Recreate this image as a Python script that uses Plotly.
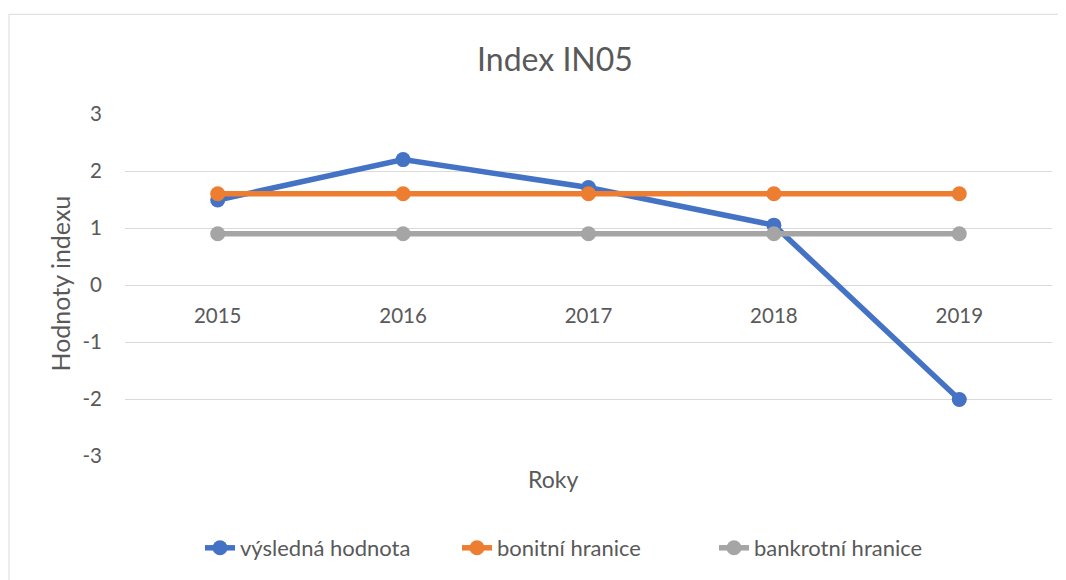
import plotly.graph_objects as go

years = ["2015", "2016", "2017", "2018", "2019"]
vysledna = [1.49, 2.20, 1.71, 1.05, -2.01]
bonitni = [1.6, 1.6, 1.6, 1.6, 1.6]
bankrotni = [0.9, 0.9, 0.9, 0.9, 0.9]
y_ticks = [-3, -2, -1, 0, 1, 2, 3]
y_ticktext = ["-3", "-2", "-1", "0", "1", "2", "3"]

FONT = "Lato"
TXT = "#595959"

# page body has an 8px margin; work in screen pixels and convert
OX, OY = 8, 8
W, H = 1066 - OX, 580 - OY
PL, PR, PT, PB = 125, 1052, 114, 457  # plot area in screen pixels
L, T = PL - OX, PT - OY
R, B = W - (PR - OX), H - (PB - OY)
pw, ph = PR - PL, PB - PT


def px(x):
    return (x - PL) / pw


def py(y):
    return (PB - y) / ph


fig = go.Figure()
series = [
    ("výsledná hodnota", vysledna, "#4472C4"),
    ("bonitní hranice", bonitni, "#ED7D31"),
    ("bankrotní hranice", bankrotni, "#A5A5A5"),
]
for name, vals, col in series:
    fig.add_trace(go.Scatter(
        x=years, y=vals, name=name, mode="lines+markers",
        line=dict(color=col, width=5.5),
        marker=dict(color=col, size=15),
    ))

fig.update_layout(
    width=W, height=H,
    margin=dict(l=L, r=R, t=T, b=B, pad=0),
    paper_bgcolor="white", plot_bgcolor="white",
    font=dict(family=FONT, color=TXT, size=20),
    title=dict(text="Index IN05", xref="container", x=(555 - OX) / W, xanchor="center",
               yref="container", y=1 - (60 - OY) / H, yanchor="middle",
               font=dict(family=FONT, size=32, color=TXT)),
    showlegend=True,
    legend=dict(orientation="h", x=px(200), xanchor="left",
                y=py(548), yanchor="middle",
                font=dict(family=FONT, size=22, color=TXT),
                entrywidth=212, entrywidthmode="pixels",
                traceorder="normal"),
    xaxis=dict(type="category", range=[-0.5, 4.5], showgrid=False,
               showline=False, zeroline=False,
               anchor="free", position=0.5,
               ticks="outside", ticklen=12, tickcolor="rgba(0,0,0,0)",
               tickfont=dict(family=FONT, size=20.5, color=TXT)),
    yaxis=dict(range=[-3, 3], tickvals=y_ticks, ticktext=y_ticktext, showgrid=True,
               gridcolor="#D9D9D9", gridwidth=1.3,
               zeroline=False, showline=False,
               ticks="outside", ticklen=18, tickcolor="rgba(0,0,0,0)",
               tickfont=dict(family=FONT, size=20.5, color=TXT)),
    annotations=[
        dict(text="Roky", xref="paper", yref="paper", x=px(553), y=py(480),
             xanchor="center", yanchor="middle", showarrow=False,
             font=dict(family=FONT, size=23, color=TXT)),
        dict(text="Hodnoty indexu", xref="paper", yref="paper", x=px(60), y=py(284),
             xanchor="center", yanchor="middle", textangle=-90, showarrow=False,
             font=dict(family=FONT, size=25, color=TXT)),
    ],
    shapes=[
        dict(type="rect", xref="paper", yref="paper",
             x0=px(9), x1=px(1075), y0=py(590), y1=py(14),
             line=dict(color="#D9D9D9", width=1), fillcolor="rgba(0,0,0,0)",
             layer="below"),
    ],
)

fig.write_html("out.html")
